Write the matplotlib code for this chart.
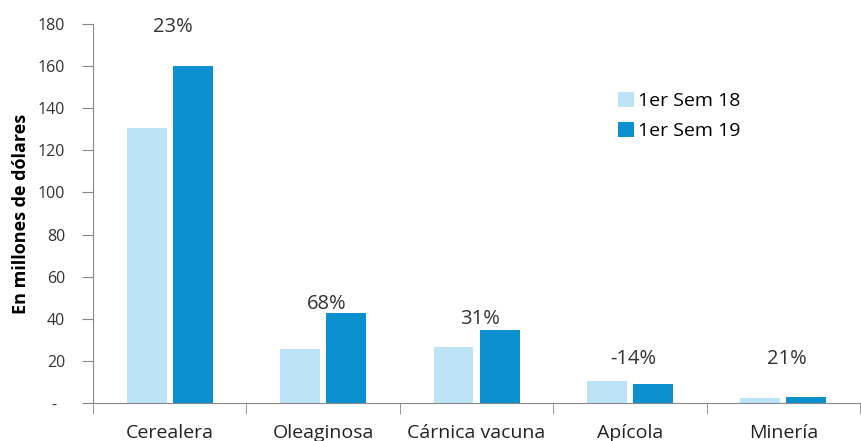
import numpy as np
import matplotlib.pyplot as plt

categorias = ['Cerealera', 'Oleaginosa', 'Cárnica vacuna', 'Apícola', 'Minería']
sem18 = [130.5, 25.5, 26.8, 10.4, 2.3]
sem19 = [159.8, 42.7, 34.8, 9.0, 2.8]
variacion = ['23%', '68%', '31%', '-14%', '21%']
altura_etiqueta = [178.5, 46.8, 39.7, 20.9, 20.9]

plt.rcParams['font.family'] = ['Open Sans', 'DejaVu Sans']

fig = plt.figure(figsize=(8.61, 4.41), dpi=100)
ax = fig.add_axes([0.108, 0.086, 0.891, 0.86])

x = np.arange(len(categorias))
ancho = 0.26
ax.bar(x - 0.15, sem18, ancho, color='#bde3f6', label='1er Sem 18')
ax.bar(x + 0.15, sem19, ancho, color='#0a8fcf', label='1er Sem 19')

# variacion interanual sobre cada grupo
for i, txt in enumerate(variacion):
    ax.text(x[i] + 0.02, altura_etiqueta[i], txt, ha='center', va='center',
            fontsize=14.5, color='#333333')

ax.set_xlim(-0.5, len(categorias) - 0.5)
ax.set_ylim(0, 180)
ax.set_yticks(np.arange(0, 181, 20))
ax.set_yticklabels(['-  '] + [str(v) for v in range(20, 181, 20)], fontsize=11.5, color='#333333')
ax.set_xticks(x)
ax.set_xticklabels(categorias, fontsize=14, color='#222222')
ax.tick_params(axis='x', length=0, pad=15)
ax.set_xticks(np.arange(-0.5, len(categorias)), minor=True)
ax.tick_params(axis='x', which='minor', length=8, color='#888888')
ax.tick_params(axis='y', length=8, color='#888888', pad=12)

for s in ['top', 'right']:
    ax.spines[s].set_visible(False)
for s in ['left', 'bottom']:
    ax.spines[s].set_color('#888888')

ax.set_ylabel('En millones de dólares', fontsize=13, fontweight='bold', labelpad=6)

ax.legend(loc='upper left', bbox_to_anchor=(0.685, 0.82), frameon=False,
          fontsize=14, handlelength=0.8, handleheight=0.8, handletextpad=0.2,
          labelspacing=0.6, borderpad=0, borderaxespad=0)

fig.savefig('out.png', dpi=100)
